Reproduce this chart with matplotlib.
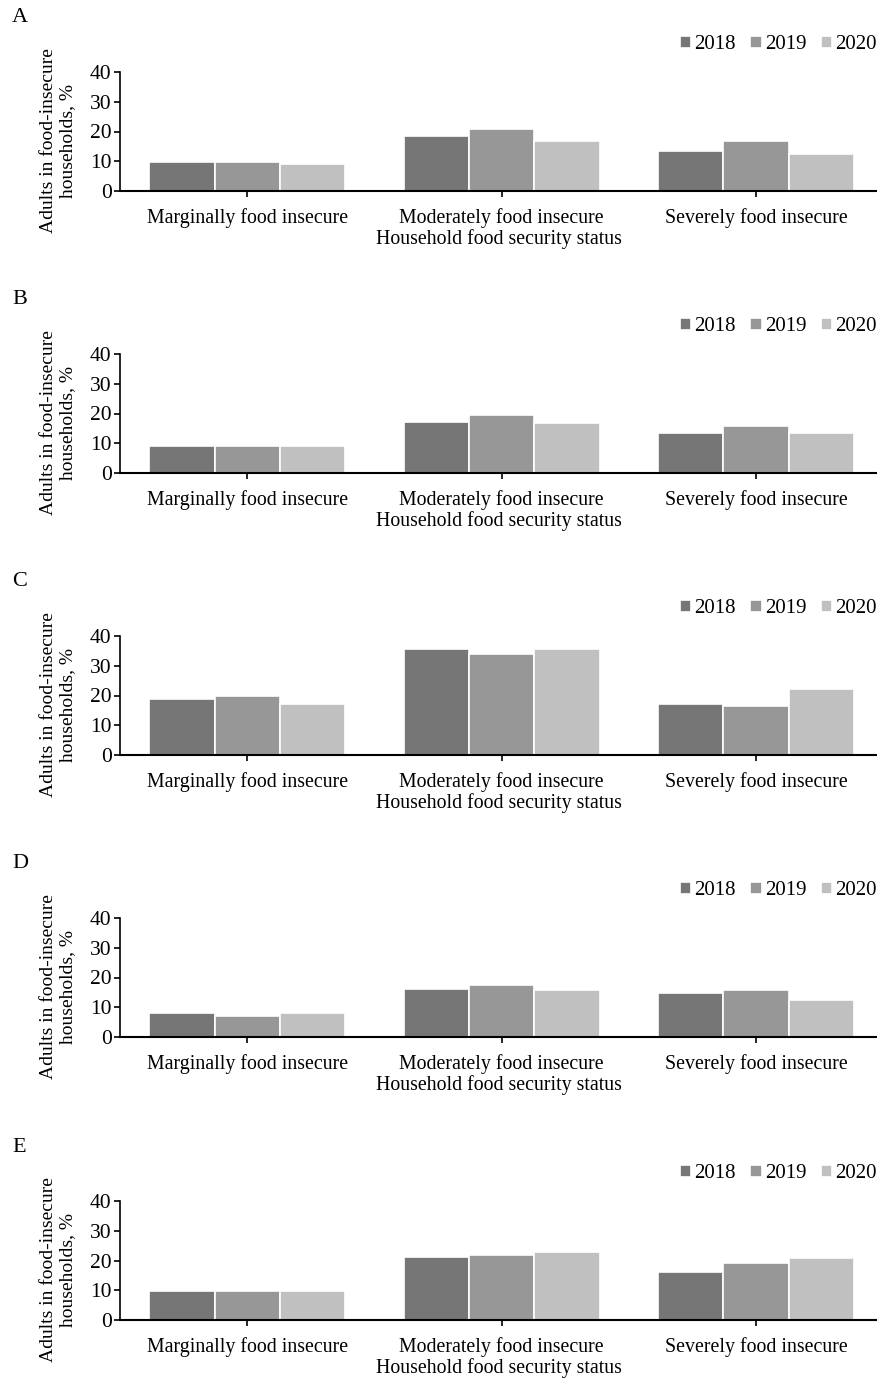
import matplotlib.pyplot as plt
import numpy as np

plt.rcParams['font.family'] = ['Liberation Serif', 'DejaVu Serif']

categories = ["Marginally food insecure", "Moderately food insecure", "Severely food insecure"]
years = ["2018", "2019", "2020"]
colors = ["#767676", "#979797", "#c0c0c0"]
panels = ["A", "B", "C", "D", "E"]

# values per panel: rows = year, cols = category
vals_a = [[9.6, 18.5, 13.5], [9.6, 20.8, 16.8], [9.1, 16.8, 12.4]]
vals_b = [[9.0, 17.3, 13.5], [9.0, 19.6, 15.7], [9.0, 16.7, 13.5]]
vals_c = [[18.8, 35.6, 17.0], [19.8, 33.9, 16.4], [17.1, 35.6, 22.1]]
vals_d = [[8.1, 16.3, 14.7], [7.0, 17.4, 15.8], [8.1, 15.8, 12.6]]
vals_e = [[9.7, 21.3, 16.3], [9.7, 21.9, 19.2], [9.7, 23.0, 20.9]]
all_vals = [vals_a, vals_b, vals_c, vals_d, vals_e]

W, H = 877, 1384
fig = plt.figure(figsize=(W / 100, H / 100), dpi=100)

ax_tops = [72, 354, 636, 918, 1201]
ax_h = 119
ax_left, ax_right = 120, 877
x = np.arange(len(categories))
bw = 0.257

for p, vals, top in zip(panels, all_vals, ax_tops):
    ax = fig.add_axes([ax_left / W, 1 - (top + ax_h) / H, (ax_right - ax_left) / W, ax_h / H])
    for i, (yr, c) in enumerate(zip(years, colors)):
        ax.bar(x + (i - 1) * bw, vals[i], bw, color=c, edgecolor="white", linewidth=1.2, label=yr)
    ax.set_xlim(-0.5, 2.475)
    ax.set_ylim(0, 40)
    ax.set_yticks([0, 10, 20, 30, 40])
    ax.set_xticks(x)
    ax.set_xticklabels(categories, fontsize=14.3)
    ax.tick_params(axis="y", labelsize=15.5, length=4, width=1.2, pad=2)
    ax.tick_params(axis="x", length=4, width=1.2, pad=8)
    for s in ["top", "right"]:
        ax.spines[s].set_visible(False)
    ax.spines["left"].set_linewidth(1.2)
    ax.spines["bottom"].set_linewidth(1.5)
    ax.set_xlabel("Household food security status", fontsize=14.3, labelpad=1)
    ax.set_ylabel("Adults in food-insecure\nhouseholds, %", fontsize=14, linespacing=1.15)
    ax.yaxis.set_label_coords(-0.058, 0.42)
    ax.legend(loc="lower right", bbox_to_anchor=(1.0, 1.15), ncol=3, frameon=False, fontsize=15,
              handlelength=0.55, handleheight=0.55, handletextpad=0.15, columnspacing=0.7,
              borderaxespad=0, borderpad=0)
    fig.text(12 / W, 1 - (top - 54) / H, p, fontsize=16, va="center", ha="left")

fig.savefig("out.png", dpi=100)
